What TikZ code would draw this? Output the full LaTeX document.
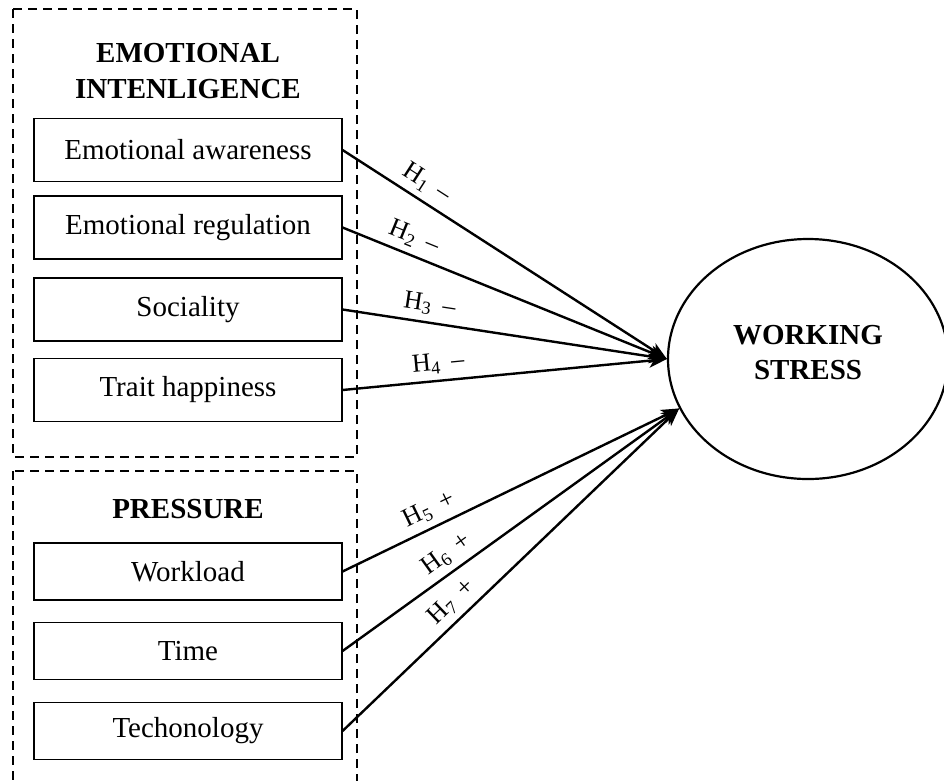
\documentclass[tikz,border=0pt]{standalone}
\usepackage{fontspec}
\setmainfont{Liberation Serif}
\usetikzlibrary{arrows.meta,shapes.geometric}
\begin{document}
\begin{tikzpicture}[x=1pt,y=-1pt,
  grouprect/.style={line width=2.2pt, dash pattern=on 9pt off 6pt},
  itembox/.style={draw, line width=1.1pt, minimum width=308pt, inner sep=0pt,
    font=\fontsize{29}{35}\selectfont},
  upperbox/.style={itembox, minimum height=63pt},
  lowerbox/.style={itembox, minimum height=57pt},
  heading/.style={font=\fontsize{29}{36}\selectfont\bfseries, align=center, inner sep=0pt},
  conn/.style={line width=2.4pt, -{Stealth[length=18pt,width=14pt,inset=5pt]}},
  hyp/.style={font=\fontsize{26}{26}\selectfont, sloped, above=6pt, inner sep=0pt}
]
\useasboundingbox (0,0) rectangle (944,780);

% dashed group frames
\draw[grouprect] (13,9) rectangle (357,457);
\draw[grouprect] (13,471) rectangle (357,800);

% group headings
\node[heading] (eihead) at (188,71) {EMOTIONAL\\INTENLIGENCE};
\node[heading] (prhead) at (188,509) {PRESSURE};

% emotional intelligence dimensions
\node[upperbox] (ea) at (188,150) {Emotional awareness};
\node[upperbox] (er) at (188,227.5) {Emotional regulation};
\node[upperbox] (so) at (188,309.5) {Sociality};
\node[upperbox] (th) at (188,390) {Trait happiness};

% pressure dimensions
\node[lowerbox] (wl) at (188,571.5) {Workload};
\node[lowerbox] (ti) at (188,651) {Time};
\node[lowerbox] (te) at (188,731) {Techonology};

% outcome
\node[draw, ellipse, line width=2.2pt, minimum width=280pt, minimum height=240pt,
  inner sep=0pt, font=\fontsize{29}{35}\selectfont\bfseries, align=center]
  (ws) at (808,359) {WORKING\\STRESS\\[-22pt]};

\coordinate (lowtip) at (ws.201);

% hypotheses
\draw[conn] (ea.east) -- (ws.west) node[hyp, pos=0.23] {H\textsubscript{1}\, \textendash};
\draw[conn] (er.east) -- (ws.west) node[hyp, pos=0.2] {H\textsubscript{2}\, \textendash};
\draw[conn] (so.east) -- (ws.west) node[hyp, pos=0.26] {H\textsubscript{3}\, \textendash};
\draw[conn] (th.east) -- (ws.west) node[hyp, pos=0.3] {H\textsubscript{4}\, \textendash};
\draw[conn] (wl.east) -- (lowtip) node[hyp, pos=0.28] {H\textsubscript{5}\, +};
\draw[conn] (ti.east) -- (lowtip) node[hyp, pos=0.34] {H\textsubscript{6}\, +};
\draw[conn] (te.east) -- (lowtip) node[hyp, pos=0.36] {H\textsubscript{7}\, +};
\end{tikzpicture}
\end{document}
